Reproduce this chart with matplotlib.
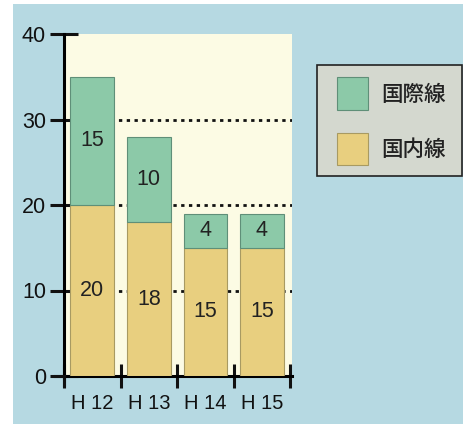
import matplotlib
matplotlib.use("Agg")
import matplotlib.pyplot as plt
from matplotlib.patches import Rectangle

plt.rcParams['font.family'] = ['Noto Sans CJK JP', 'DejaVu Sans']
NUMFONT = "Liberation Sans"

categories = ["H 12", "H 13", "H 14", "H 15"]
domestic = [20, 18, 15, 15]       # 国内線
international = [15, 10, 4, 4]    # 国際線
yticks = [0, 10, 20, 30, 40]

W, H = 463, 424
fig = plt.figure(figsize=(W / 100, H / 100), dpi=100)
fig.patch.set_facecolor("white")

# light blue backdrop
fig.patches.append(Rectangle((13 / W, 0), 1 - 13 / W, (H - 4) / H,
                             transform=fig.transFigure, facecolor="#b6d9e2",
                             edgecolor="none", zorder=-10))

ax = fig.add_axes([64 / W, (H - 376) / H, (292 - 64) / W, (376 - 34) / H])
ax.set_zorder(1)
ax.set_facecolor("#fcfbe4")

c_dom = "#e8cf7f"
c_int = "#8cc9a8"
x = list(range(len(categories)))
bw = 0.77
ax.bar(x, domestic, width=bw, color=c_dom, edgecolor="#a89a62", linewidth=0.8, zorder=3)
ax.bar(x, international, width=bw, bottom=domestic, color=c_int,
       edgecolor="#5f8f78", linewidth=0.8, zorder=3)

for i in x:
    ax.text(i, domestic[i] / 2, str(domestic[i]), ha="center", va="center",
            fontsize=15.5, color="#222222", zorder=4, family=NUMFONT)
    ax.text(i, domestic[i] + international[i] / 2, str(international[i]),
            ha="center", va="center", fontsize=15.5, color="#222222", zorder=4,
            family=NUMFONT)

for yv in [10, 20, 30]:
    ax.axhline(yv, color="#111111", linestyle=(0, (1.2, 1.6)), linewidth=2.0, zorder=1)

ax.set_xlim(-0.5, 3.535)
ax.set_ylim(0, 40)

ax.spines["top"].set_visible(False)
ax.spines["right"].set_visible(False)
ax.spines["left"].set_linewidth(2.2)
ax.spines["bottom"].set_linewidth(2.2)
ax.spines["left"].set_bounds(0, 40)

ax.set_yticks(yticks)
ax.set_yticklabels([str(v) for v in yticks], fontsize=15.5, family=NUMFONT)
ax.tick_params(axis="y", direction="inout", length=20, width=2.2, pad=3, colors="#111111")

ax.set_xticks([-0.5, 0.5, 1.5, 2.5, 3.5])
ax.set_xticklabels([])
ax.tick_params(axis="x", direction="inout", length=17, width=2.2, colors="#111111")
for i, c in enumerate(categories):
    ax.text(i, -3.2, c, ha="center", va="center", fontsize=14.5, color="#111111",
            family=NUMFONT)

# extend y axis below 0 and x axis left of the y axis
ax.plot([-0.5, -0.5], [0, -1.0], color="#111111", linewidth=2.2, clip_on=False, zorder=5)
ax.plot([-0.66, -0.5], [0, 0], color="#111111", linewidth=2.2, clip_on=False, zorder=5)

# legend box
fig.patches.append(Rectangle((317 / W, (H - 176) / H), (462 - 317) / W, (176 - 65) / H,
                             transform=fig.transFigure, facecolor="#d4d8cf",
                             edgecolor="#222222", linewidth=1.2, zorder=5))
fig.patches.append(Rectangle((337 / W, (H - 110) / H), 31 / W, 33 / H,
                             transform=fig.transFigure, facecolor=c_int,
                             edgecolor="#5f8f78", linewidth=0.8, zorder=6))
fig.patches.append(Rectangle((337 / W, (H - 165) / H), 31 / W, 32 / H,
                             transform=fig.transFigure, facecolor=c_dom,
                             edgecolor="#a89a62", linewidth=0.8, zorder=6))
fig.text(381 / W, (H - 95) / H, "国際線", ha="left", va="center", fontsize=15.5,
         color="#222222", zorder=7, weight="medium")
fig.text(381 / W, (H - 150) / H, "国内線", ha="left", va="center", fontsize=15.5,
         color="#222222", zorder=7, weight="medium")

fig.savefig("out.png", dpi=100, facecolor=fig.get_facecolor())
